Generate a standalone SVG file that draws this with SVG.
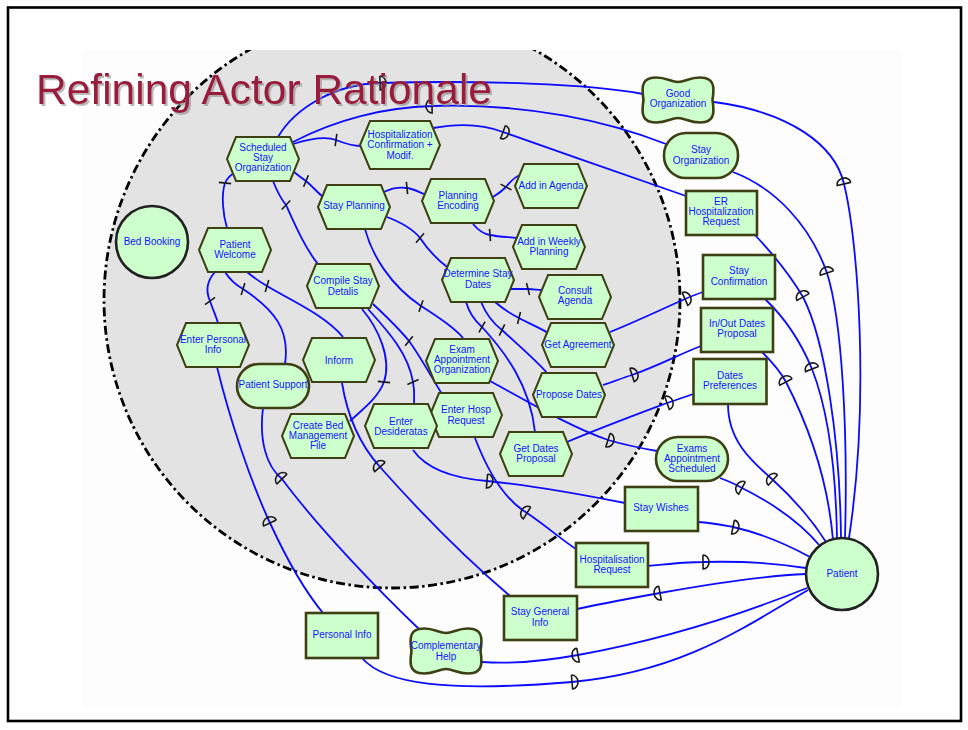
<svg xmlns="http://www.w3.org/2000/svg" xmlns:xlink="http://www.w3.org/1999/xlink" width="968" height="730" viewBox="0 0 968 730">
<style>
.lk{fill:none;stroke:#0b0bff;stroke-width:1.8}
.dec{marker-mid:url(#tick)}
.df{marker-mid:url(#dF)}
.db{marker-mid:url(#dB)}
.mk{fill:none;stroke:#1a1a1a;stroke-width:1.6}
.nd{fill:#ccffcc;stroke:#3f3f14;stroke-width:2}
.rs{stroke-width:2.6}
.ac{stroke:#222;stroke-width:2.6}
.lb{font-family:"Liberation Sans",Arial,sans-serif;font-size:10px;fill:#1414ff;text-anchor:middle}
.ttl{font-family:"Liberation Sans",Arial,sans-serif;font-size:42.5px;fill:#9a1a3c}
</style>
<defs>
<polygon id="hex" points="-36,0 -27,-22 27,-22 36,0 27,22 -27,22"/>
<polygon id="hexL" points="-40,0 -30,-24 30,-24 40,0 30,24 -30,24"/>
<path id="cloud" d="M-27,-22 C-14,-24.5 -8,-18 0,-18 C8,-18 14,-24.5 27,-22 C37,-20 36,-10 34.5,0 C36,10 37,20 27,22 C14,24.5 8,18 0,18 C-8,18 -14,24.5 -27,22 C-37,20 -36,10 -34.5,0 C-36,-10 -37,-20 -27,-22 Z"/>
<marker id="tick" viewBox="-10 -10 20 20" markerWidth="20" markerHeight="20" refX="0" refY="0" markerUnits="userSpaceOnUse" orient="auto"><path class="mk" d="M-1.5,-6 L1.5,6"/></marker>
<marker id="dF" viewBox="-10 -10 20 20" markerWidth="20" markerHeight="20" refX="0" refY="0" markerUnits="userSpaceOnUse" orient="auto"><path class="mk" d="M0,-7 L0,7 A6,7 0 0 0 0,-7"/></marker>
<marker id="dB" viewBox="-10 -10 20 20" markerWidth="20" markerHeight="20" refX="0" refY="0" markerUnits="userSpaceOnUse" orient="auto"><path class="mk" d="M0,-7 L0,7 A6,7 0 0 1 0,-7"/></marker>
<clipPath id="clip"><rect x="83" y="50" width="818" height="657"/></clipPath>
<filter id="shadow" x="-5%" y="-20%" width="110%" height="140%"><feDropShadow dx="2" dy="2" stdDeviation="0.6" flood-color="#8c8c8c" flood-opacity="0.6"/></filter>
</defs>

<rect x="0" y="0" width="968" height="730" fill="#ffffff"/>
<rect x="83" y="50" width="818" height="657" fill="#fdfdfd"/>
<rect x="8" y="7.5" width="953" height="713.5" fill="none" stroke="#000" stroke-width="2.6"/>

<g id="actor-boundary" clip-path="url(#clip)">
<circle cx="392" cy="300" r="288" fill="#e3e3e3" stroke="#000" stroke-width="2.8" stroke-dasharray="9 3.5 2.5 3.5"/>
</g>

<g id="connectors">
<path class="lk dec" d="M293,144 C312,138 326,136 336,140 C346,144 352,146 361,146"/>
<path class="lk dec" d="M294,172 C299,176 303,179 306,181 C312,186 317,192 323,197"/>
<path class="lk dec" d="M237,171 C230,175 227,178 225,183 C221,195 223,215 227,228"/>
<path class="lk dec" d="M273,181 C277,191 281,199 286,205 C295,225 305,248 318,264"/>
<path class="lk dec" d="M384,192 C392,188 400,187 407,188 C414,189 419,192 424,194"/>
<path class="lk dec" d="M493,197 C498,194 503,190 506,187 C510,182 514,177 520,175"/>
<path class="lk dec" d="M473,224 C478,230 483,234 490,235 C500,237 510,237 517,238"/>
<path class="lk dec" d="M387,217 C400,222 413,229 420,238 C428,250 438,260 447,267"/>
<path class="lk dec" d="M365,229 C372,255 390,285 421,306 C440,318 455,328 463,338"/>
<path class="lk dec" d="M510,289 C516,289 522,289 528,289 C533,289 538,290 541,290"/>
<path class="lk dec" d="M495,302 C502,308 511,314 519,318 C530,324 540,328 548,333"/>
<path class="lk dec" d="M481,302 C486,314 494,324 502,330 C518,345 538,362 547,373"/>
<path class="lk dec" d="M466,302 C469,312 475,321 482,327 C505,352 530,385 535,432"/>
<path class="lk dec" d="M362,309 C378,328 392,358 384,382 C378,398 362,410 350,421"/>
<path class="lk dec" d="M368,309 C385,328 408,352 413,382 C415,392 414,398 414,404"/>
<path class="lk dec" d="M373,304 C388,318 400,330 409,341 C420,356 432,378 442,394"/>
<path class="lk dec" d="M215,272 C206,282 206,292 210,301 C213,310 216,316 218,323"/>
<path class="lk dec" d="M225,272 C230,280 236,285 243,289 C275,310 290,330 285,364"/>
<path class="lk dec" d="M247,272 C253,277 260,282 267,286 C290,300 325,315 343,337"/>

<path class="lk df" d="M278,137 C295,108 335,84 380,83 C480,80 590,84 643,94"/>
<path class="lk db" d="M293,142 C335,120 385,107 432,106 C530,103 610,122 666,144"/>
<path class="lk df" d="M433,128 C460,123 485,125 503,132 C560,152 640,180 686,196"/>
<path class="lk db" d="M714,102 C790,112 835,145 844,184 C858,240 870,400 849,538"/>
<path class="lk db" d="M733,172 C775,188 810,225 827,273 C842,320 848,430 845,538"/>
<path class="lk db" d="M755,235 C772,253 790,275 803,297 C825,340 840,440 841,538"/>
<path class="lk db" d="M765,299 C785,318 800,340 812,369 C828,410 836,470 837,539"/>
<path class="lk db" d="M762,352 C772,362 780,371 786,382 C808,425 828,480 833,540"/>
<path class="lk db" d="M728,404 C728,440 750,460 773,480 C795,500 812,520 826,542"/>
<path class="lk db" d="M720,478 C728,481 735,484 742,488 C770,502 800,522 820,546"/>
<path class="lk df" d="M698,522 C712,523 722,525 733,527 C760,533 788,545 810,557"/>
<path class="lk df" d="M648,566 C668,564 686,562 703,562 C740,561 775,563 806,568"/>
<path class="lk db" d="M577,609 C605,603 632,598 660,593 C710,584 760,576 806,574"/>
<path class="lk db" d="M482,662 C510,664 545,661 578,655 C660,640 740,615 807,588"/>
<path class="lk df" d="M362,658 C385,685 450,692 572,682 C680,672 740,630 808,590"/>
<path class="lk df" d="M610,332 C635,322 660,310 685,299 C692,296 697,294 703,292"/>
<path class="lk df" d="M603,385 C613,382 622,378 632,375 C660,365 680,354 701,346"/>
<path class="lk df" d="M567,442 C600,428 635,415 667,403 C676,400 685,397 693,394"/>
<path class="lk df" d="M490,381 C525,400 570,427 608,440 C625,445 640,448 657,451"/>
<path class="lk df" d="M413,450 C425,467 450,478 487,481 C540,486 590,496 625,503"/>
<path class="lk db" d="M475,438 C488,472 505,500 527,513 C545,525 562,540 576,549"/>
<path class="lk db" d="M342,383 C348,420 362,447 380,467 C420,512 470,562 510,596"/>
<path class="lk db" d="M263,408 C259,440 266,466 282,479 C320,530 380,592 420,630"/>
<path class="lk db" d="M217,367 C230,420 250,480 270,523 C288,562 308,595 323,613"/>
</g>

<g id="scheduled-stay-organization"><use href="#hex" class="nd" x="263" y="159"/><text class="lb"><tspan x="263" y="150.5">Scheduled</tspan><tspan x="263" y="160.5">Stay</tspan><tspan x="263" y="170.5">Organization</tspan></text></g>
<g id="hospitalization-confirmation"><use href="#hexL" class="nd" x="400" y="145"/><text class="lb"><tspan x="400" y="137.5">Hospitalization</tspan><tspan x="400" y="148">Confirmation +</tspan><tspan x="400" y="158.5">Modif.</tspan></text></g>
<g id="stay-planning"><use href="#hex" class="nd" x="354" y="207"/><text class="lb" x="354" y="208.5">Stay Planning</text></g>
<g id="planning-encoding"><use href="#hex" class="nd" x="458" y="201"/><text class="lb"><tspan x="458" y="199">Planning</tspan><tspan x="458" y="209">Encoding</tspan></text></g>
<g id="add-in-agenda"><use href="#hex" class="nd" x="551" y="186"/><text class="lb" x="551" y="188.5">Add in Agenda</text></g>
<g id="add-in-weekly-planning"><use href="#hex" class="nd" x="549" y="247"/><text class="lb"><tspan x="549" y="244.5">Add in Weekly</tspan><tspan x="549" y="254.5">Planning</tspan></text></g>
<g id="determine-stay-dates"><use href="#hex" class="nd" x="478" y="280"/><text class="lb"><tspan x="478" y="277">Determine Stay</tspan><tspan x="478" y="287.5">Dates</tspan></text></g>
<g id="consult-agenda"><use href="#hex" class="nd" x="575" y="297"/><text class="lb"><tspan x="575" y="293.5">Consult</tspan><tspan x="575" y="303.5">Agenda</tspan></text></g>
<g id="get-agreement"><use href="#hex" class="nd" x="578" y="345"/><text class="lb" x="578" y="348">Get Agreement</text></g>
<g id="propose-dates"><use href="#hex" class="nd" x="569" y="395"/><text class="lb" x="569" y="397.5">Propose Dates</text></g>
<g id="exam-appointment-organization"><use href="#hex" class="nd" x="462" y="361"/><text class="lb"><tspan x="462" y="352.5">Exam</tspan><tspan x="462" y="362.5">Appointment</tspan><tspan x="462" y="372.5">Organization</tspan></text></g>
<g id="enter-hosp-request"><use href="#hex" class="nd" x="466" y="415"/><text class="lb"><tspan x="466" y="413">Enter Hosp</tspan><tspan x="466" y="423.5">Request</tspan></text></g>
<g id="get-dates-proposal"><use href="#hex" class="nd" x="536" y="454"/><text class="lb"><tspan x="536" y="451.5">Get Dates</tspan><tspan x="536" y="461.5">Proposal</tspan></text></g>
<g id="enter-desideratas"><use href="#hex" class="nd" x="401" y="426"/><text class="lb"><tspan x="401" y="425">Enter</tspan><tspan x="401" y="435">Desideratas</tspan></text></g>
<g id="create-bed-management-file"><use href="#hex" class="nd" x="318" y="436"/><text class="lb"><tspan x="318" y="429">Create Bed</tspan><tspan x="318" y="439">Management</tspan><tspan x="318" y="449">File</tspan></text></g>
<g id="inform"><use href="#hex" class="nd" x="339" y="360"/><text class="lb" x="339" y="363.5">Inform</text></g>
<g id="compile-stay-detalis"><use href="#hex" class="nd" x="343" y="286"/><text class="lb"><tspan x="343" y="284">Compile Stay</tspan><tspan x="343" y="295">Detalis</tspan></text></g>
<g id="patient-welcome"><use href="#hex" class="nd" x="235" y="250"/><text class="lb"><tspan x="235" y="248">Patient</tspan><tspan x="235" y="258">Welcome</tspan></text></g>
<g id="enter-personal-info"><use href="#hex" class="nd" x="213" y="345"/><text class="lb"><tspan x="213" y="342.5">Enter Personal</tspan><tspan x="213" y="352.5">Info</tspan></text></g>

<g id="bed-booking"><circle class="nd ac" cx="152" cy="242" r="36"/><text class="lb" x="152" y="244.5">Bed Booking</text></g>
<g id="patient"><circle class="nd ac" cx="842" cy="574" r="36"/><text class="lb" x="842" y="576.5">Patient</text></g>

<g id="patient-support"><rect class="nd rs" x="237" y="364" width="72" height="44" rx="22"/><text class="lb" x="273" y="388">Patient Support</text></g>
<g id="stay-organization"><rect class="nd rs" x="664" y="133" width="74" height="45" rx="22"/><text class="lb"><tspan x="701" y="152.5">Stay</tspan><tspan x="701" y="163.5">Organization</tspan></text></g>
<g id="exams-appointment-scheduled"><rect class="nd rs" x="656" y="437" width="72" height="44" rx="22"/><text class="lb"><tspan x="692" y="451.5">Exams</tspan><tspan x="692" y="461.5">Appointment</tspan><tspan x="692" y="471.5">Scheduled</tspan></text></g>

<g id="good-organization"><use href="#cloud" class="nd rs" x="678" y="100"/><text class="lb"><tspan x="678" y="96.5">Good</tspan><tspan x="678" y="106.5">Organization</tspan></text></g>
<g id="complementary-help"><use href="#cloud" class="nd rs" x="446" y="651"/><text class="lb"><tspan x="446" y="648.5">Complementary</tspan><tspan x="446" y="659.5">Help</tspan></text></g>

<g id="er-hospitalization-request"><rect class="nd rs" x="686" y="191" width="71" height="44"/><text class="lb"><tspan x="721" y="204.5">ER</tspan><tspan x="721" y="214.5">Hospitalization</tspan><tspan x="721" y="224.5">Request</tspan></text></g>
<g id="stay-confirmation"><rect class="nd rs" x="703" y="255" width="72" height="44"/><text class="lb"><tspan x="739" y="274">Stay</tspan><tspan x="739" y="285">Confirmation</tspan></text></g>
<g id="in-out-dates-proposal"><rect class="nd rs" x="701" y="308" width="72" height="44"/><text class="lb"><tspan x="737" y="327">In/Out Dates</tspan><tspan x="737" y="337">Proposal</tspan></text></g>
<g id="dates-preferences"><rect class="nd rs" x="693.5" y="359" width="73" height="45"/><text class="lb"><tspan x="730" y="379">Dates</tspan><tspan x="730" y="389">Preferences</tspan></text></g>
<g id="stay-wishes"><rect class="nd rs" x="625" y="487" width="73" height="44"/><text class="lb" x="661" y="511">Stay Wishes</text></g>
<g id="hospitalisation-request"><rect class="nd rs" x="576" y="543" width="72" height="44"/><text class="lb"><tspan x="612" y="562.5">Hospitalisation</tspan><tspan x="612" y="572.5">Request</tspan></text></g>
<g id="stay-general-info"><rect class="nd rs" x="504" y="596" width="73" height="44"/><text class="lb"><tspan x="540" y="615">Stay General</tspan><tspan x="540" y="626">Info</tspan></text></g>
<g id="personal-info"><rect class="nd rs" x="306" y="613" width="72" height="45"/><text class="lb" x="342" y="638">Personal Info</text></g>

<g id="title">
<text class="ttl" x="36" y="104" filter="url(#shadow)">Refining Actor Rationale</text>
</g>
</svg>
